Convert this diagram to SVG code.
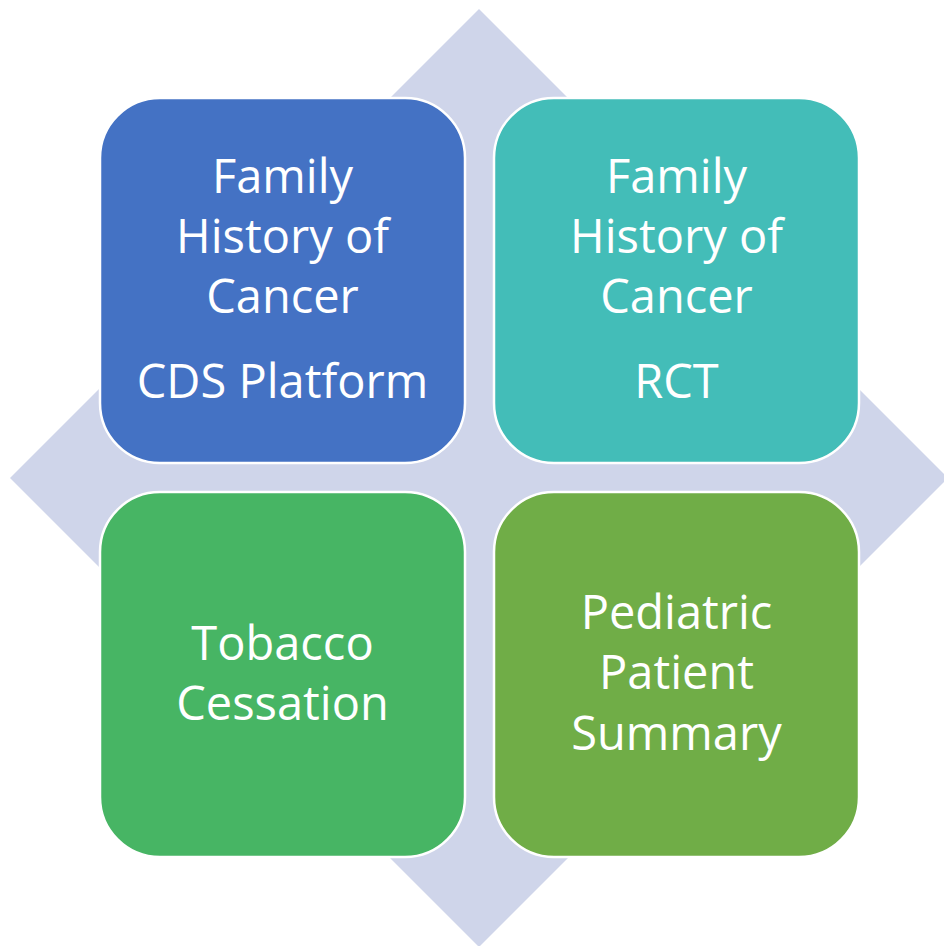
<svg xmlns="http://www.w3.org/2000/svg" width="944" height="946" viewBox="0 0 944 946">
<style>
.box{stroke:#ffffff;stroke-width:2.5}
.t{font-family:"Open Sans","Liberation Sans",sans-serif;font-size:47px;fill:#ffffff;text-anchor:middle}
</style>
<rect width="944" height="946" fill="#ffffff"/>
<g id="diamond"><polygon points="479,9 948,478 479,947 10,478" fill="#CFD5EA"/></g>
<g id="connectors"></g>
<g id="node-cds">
<rect class="box" x="100" y="98" width="365" height="365" rx="60" fill="#4472C4"/>
<text class="t" x="282.5" y="193">Family</text>
<text class="t" x="282.5" y="253">History of</text>
<text class="t" x="282.5" y="313">Cancer</text>
<text class="t" x="282.5" y="398">CDS Platform</text>
</g>
<g id="node-rct">
<rect class="box" x="494" y="98" width="365" height="365" rx="60" fill="#43BDB8"/>
<text class="t" x="676.5" y="193">Family</text>
<text class="t" x="676.5" y="253">History of</text>
<text class="t" x="676.5" y="313">Cancer</text>
<text class="t" x="676.5" y="398">RCT</text>
</g>
<g id="node-tobacco">
<rect class="box" x="100" y="492" width="365" height="365" rx="60" fill="#47B564"/>
<text class="t" x="282.5" y="660">Tobacco</text>
<text class="t" x="282.5" y="720">Cessation</text>
</g>
<g id="node-pediatric">
<rect class="box" x="494" y="492" width="365" height="365" rx="60" fill="#70AD47"/>
<text class="t" x="676.5" y="629">Pediatric</text>
<text class="t" x="676.5" y="689">Patient</text>
<text class="t" x="676.5" y="750">Summary</text>
</g>
</svg>
